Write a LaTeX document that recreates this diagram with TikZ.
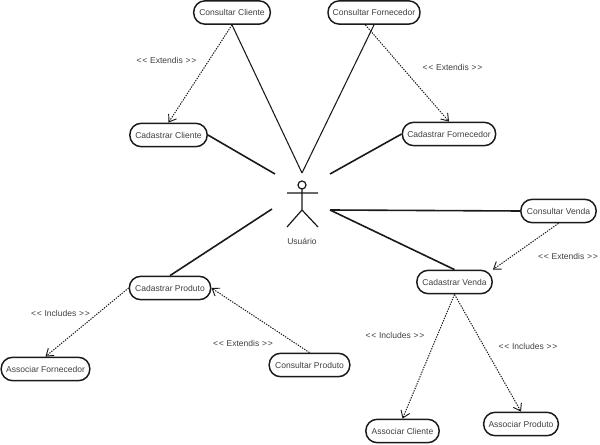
\documentclass[tikz,border=0pt]{standalone}
\usepackage{fontspec}
\setmainfont{Liberation Sans}
\usetikzlibrary{arrows.meta}
\definecolor{ink}{HTML}{1A1A1A}
\definecolor{txt}{HTML}{404040}
\newcommand{\stereo}[1]{<\kern0.6pt<\kern2pt #1\kern2pt >\kern0.6pt>}
\tikzset{
  usecase/.style={draw=ink,line width=1.1pt,rounded corners=8.5pt,minimum height=17.5pt,inner sep=0pt,text=txt,font=\fontsize{6.4}{7.5}\selectfont},
  lbl/.style={text=txt,inner sep=0pt,font=\fontsize{6.4}{7.5}\selectfont},
  thin line/.style={draw=ink,line width=0.8pt},
  thick line/.style={draw=ink,line width=1.2pt},
  dep/.style={draw=ink,line width=0.75pt,dash pattern=on 1pt off 0.9pt,-{Straight Barb[length=5pt,width=7pt,line width=0.7pt]}},
  figure/.style={draw=ink,line width=0.9pt},
}
\begin{document}
\begin{tikzpicture}[x=0.75pt,y=-0.75pt]
\useasboundingbox (0,0) rectangle (600,445);
\fill[white] (0,0) rectangle (600,445);
% use cases
\node[usecase,minimum width=57.5pt] (concli) at (232,12.5) {Consultar Cliente};
\node[usecase,minimum width=58pt] (cadcli) at (168.5,135) {Cadastrar Cliente};
\node[usecase,minimum width=69pt] (confor) at (374,12.5) {Consultar Fornecedor};
\node[usecase,minimum width=70pt] (cadfor) at (449,134) {Cadastrar Fornecedor};
\node[usecase,minimum width=56.5pt] (conven) at (558.5,211) {Consultar Venda};
\node[usecase,minimum width=56.5pt] (cadven) at (454.5,282) {Cadastrar Venda};
\node[usecase,minimum width=55pt] (asscli) at (402.5,431) {Associar Cliente};
\node[usecase,minimum width=56pt] (asspro) at (521,424) {Associar Produto};
\node[usecase,minimum width=61pt] (cadpro) at (170,288) {Cadastrar Produto};
\node[usecase,minimum width=66.5pt] (assfor) at (45.5,369) {Associar Fornecedor};
\node[usecase,minimum width=60.5pt] (conpro) at (309.5,365) {Consultar Produto};
% actor
\coordinate (head) at (302,185);
\coordinate (neck) at (302,189);
\coordinate (hip) at (302,210);
\coordinate (armL) at (287,193);
\coordinate (armR) at (318,193);
\coordinate (legL) at (287,227);
\coordinate (legR) at (318,227);
\draw[figure] (head) circle (3pt);
\draw[figure] (neck) -- (hip) (armL) -- (armR) (legL) -- (hip) -- (legR);
\node[lbl] (usuario) at (302,241) {Usuário};
% free ends at the actor
\coordinate (apex) at (302,173);
\coordinate (tl) at (275,174);
\coordinate (tr) at (330,174);
\coordinate (bl) at (272,209);
\coordinate (br) at (330,210);
% associations
\draw[thin line] (concli.south) -- (apex);
\draw[thin line] (confor.south) -- (apex);
\draw[thick line] (cadcli.east) -- (tl);
\draw[thick line] (cadfor.west) -- (tr);
\draw[thick line] (cadpro.north) -- (bl);
\draw[thick line] (conven.west) -- (br);
\draw[thick line] (cadven.north) -- (br);
% dependencies
\draw[dep] (concli.south) -- (cadcli.north);
\draw[dep] (confor.235) -- (cadfor.north);
\draw[dep] (conven.south) -- (cadven.north east);
\draw[dep] (cadven.south) -- (asscli.north);
\draw[dep] (cadven.south) -- (asspro.north);
\draw[dep] (cadpro.west) -- (assfor.north);
\draw[dep] (conpro.north) -- (cadpro.east);
% labels
\node[lbl] (e1) at (166.5,60.5) {\stereo{Extendis}};
\node[lbl] (e2) at (452.5,67.5) {\stereo{Extendis}};
\node[lbl] (e3) at (568,256) {\stereo{Extendis}};
\node[lbl] (e4) at (243,343) {\stereo{Extendis}};
\node[lbl] (i1) at (60.5,313) {\stereo{Includes}};
\node[lbl] (i2) at (395,335) {\stereo{Includes}};
\node[lbl] (i3) at (528,346) {\stereo{Includes}};
\end{tikzpicture}
\end{document}
